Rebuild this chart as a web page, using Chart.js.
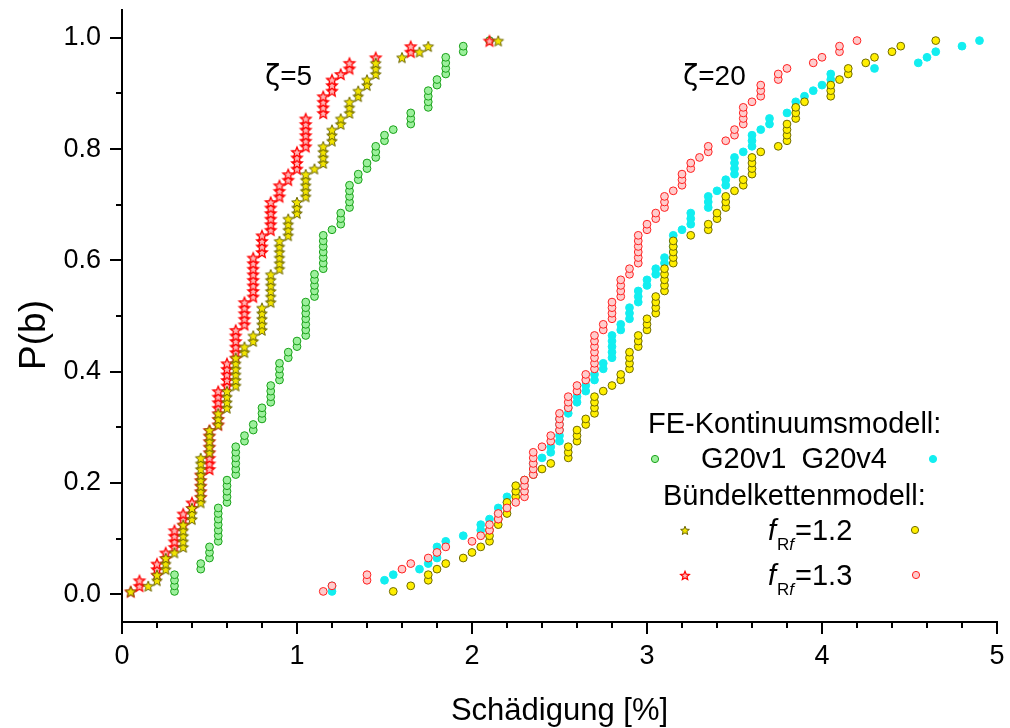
<!DOCTYPE html>
<html>
<head>
<meta charset="utf-8">
<script src="https://cdn.jsdelivr.net/npm/chart.js@4.4.1/dist/chart.umd.min.js"></script>
<style>
  html, body { margin: 0; padding: 0; background: #fff; }
  #wrap { width: 1010px; height: 728px; }
</style>
</head>
<body>
<div id="wrap"><canvas id="chart" width="1010" height="728"></canvas></div>
<script>
// Each series: [Schädigung in %, number of samples at that value] (sorted).
// P(b) of a sample is its rank position in the series.

// zeta = 5
const g20v1Z5 = [[0.30,4],[0.45,2],[0.50,3],[0.55,7],[0.60,5],[0.65,6],[0.70,2],[0.75,2],[0.80,3],[0.85,4],[0.90,4],[0.95,2],[1.00,2],[1.05,7],[1.10,5],[1.15,7],[1.20,1],[1.25,3],[1.30,5],[1.35,2],[1.40,2],[1.45,3],[1.50,2],[1.55,1],[1.65,3],[1.75,4],[1.80,2],[1.85,4],[1.95,2],[2.10,1]];
const bk12Z5 = [[0.05,1],[0.15,1],[0.20,2],[0.25,3],[0.30,1],[0.35,5],[0.40,3],[0.45,9],[0.50,5],[0.55,3],[0.60,4],[0.65,6],[0.70,2],[0.75,2],[0.80,5],[0.85,6],[0.90,6],[0.95,4],[1.00,3],[1.05,5],[1.10,1],[1.15,4],[1.20,3],[1.25,2],[1.30,3],[1.35,2],[1.40,2],[1.45,3],[1.60,1],[1.70,1],[1.75,1],[2.15,1]];
const bk13Z5 = [[0.05,1],[0.10,2],[0.20,3],[0.25,2],[0.30,4],[0.35,3],[0.40,2],[0.45,5],[0.50,8],[0.55,7],[0.60,5],[0.65,6],[0.70,5],[0.75,8],[0.80,4],[0.85,6],[0.90,3],[0.95,2],[1.00,4],[1.05,6],[1.15,4],[1.20,3],[1.25,1],[1.30,2],[1.45,1],[1.65,2],[2.10,1]];

// zeta = 20
const g20v4Z20 = [[1.20,2],[1.50,1],[1.55,1],[1.70,1],[1.75,1],[1.80,3],[1.85,1],[1.95,1],[2.05,2],[2.10,1],[2.15,2],[2.20,2],[2.30,3],[2.35,3],[2.40,1],[2.45,2],[2.50,5],[2.55,2],[2.60,2],[2.65,2],[2.70,2],[2.75,2],[2.80,5],[2.85,2],[2.90,3],[2.95,3],[3.00,2],[3.05,2],[3.10,2],[3.15,4],[3.20,1],[3.25,3],[3.35,3],[3.40,1],[3.45,2],[3.50,4],[3.55,1],[3.60,3],[3.65,1],[3.70,2],[3.80,1],[3.85,2],[3.90,1],[3.95,1],[4.00,1],[4.05,2],[4.30,1],[4.55,1],[4.60,1],[4.65,1],[4.80,1],[4.90,1]];
const bk12Z20 = [[1.55,1],[1.65,1],[1.75,2],[1.80,1],[1.85,1],[1.95,1],[2.00,1],[2.05,1],[2.10,3],[2.15,2],[2.20,3],[2.25,3],[2.30,1],[2.35,1],[2.40,1],[2.45,1],[2.55,3],[2.60,3],[2.65,2],[2.70,4],[2.75,1],[2.80,1],[2.85,2],[2.90,4],[2.95,3],[3.00,3],[3.05,4],[3.10,5],[3.15,5],[3.25,1],[3.35,2],[3.40,2],[3.45,3],[3.50,1],[3.55,2],[3.60,4],[3.65,1],[3.75,1],[3.80,4],[3.85,3],[3.90,1],[4.05,3],[4.10,1],[4.15,2],[4.25,1],[4.30,1],[4.40,1],[4.45,1],[4.65,1]];
const bk13Z20 = [[1.15,1],[1.20,1],[1.40,2],[1.60,1],[1.65,1],[1.75,1],[1.80,1],[1.85,1],[2.00,1],[2.05,1],[2.10,2],[2.15,2],[2.20,1],[2.25,1],[2.30,4],[2.35,5],[2.40,1],[2.45,2],[2.50,4],[2.55,3],[2.60,2],[2.65,2],[2.70,7],[2.75,2],[2.80,4],[2.85,4],[2.90,2],[2.95,6],[3.00,2],[3.05,2],[3.10,3],[3.15,1],[3.20,3],[3.25,2],[3.30,1],[3.35,2],[3.45,1],[3.50,2],[3.55,4],[3.60,1],[3.65,3],[3.75,2],[3.80,1],[3.95,1],[4.00,1],[4.10,2],[4.20,1]];

const xTicks = [0, 1, 2, 3, 4, 5];
const yTicks = [0.0, 0.2, 0.4, 0.6, 0.8, 1.0];

const FONT = "'Liberation Sans', Arial, sans-serif";

// turn [x, count] groups into points, y = plotting position (rank - 0.5) / n
function toPoints(groups) {
  const n = groups.reduce((s, g) => s + g[1], 0);
  const pts = [];
  let rank = 0;
  groups.forEach(([x, count]) => {
    for (let k = 0; k < count; k++) {
      rank++;
      pts.push({ x, y: (rank - 0.5) / n });
    }
  });
  return pts;
}

// filled 5-point star used as point style
function makeStar(fill, stroke, r, lw) {
  const size = Math.ceil(r * 2 + 4);
  const cv = document.createElement('canvas');
  cv.width = size;
  cv.height = size;
  const ctx = cv.getContext('2d');
  const c = size / 2;
  ctx.beginPath();
  for (let i = 0; i < 10; i++) {
    const rr = i % 2 ? r * 0.45 : r;
    const a = -Math.PI / 2 + i * Math.PI / 5;
    ctx.lineTo(c + rr * Math.cos(a), c + 0.8 + rr * Math.sin(a));
  }
  ctx.closePath();
  ctx.fillStyle = fill;
  ctx.fill();
  ctx.lineWidth = lw;
  ctx.strokeStyle = stroke;
  ctx.stroke();
  return cv;
}

const oliveStar = makeStar('#f2e400', '#6a6400', 5.6, 1);
const redStar = makeStar('#ffb4b4', '#ff0000', 5.6, 1.3);
const oliveStarSmall = makeStar('#f2e400', '#6a6400', 4.6, 1);
const redStarSmall = makeStar('#ffb4b4', '#ff0000', 4.6, 1.2);

const green = { fill: '#9cf09c', line: '#18a018' };
const cyan = { fill: '#12eef0', line: '#12eef0' };
const yellow = { fill: '#ffee00', line: '#6f6a00' };
const pink = { fill: '#ffcccc', line: '#ff2020' };

function circleSet(label, groups, col) {
  return {
    label, data: toPoints(groups),
    pointStyle: 'circle', pointRadius: 3.9, borderWidth: 1,
    backgroundColor: col.fill, borderColor: col.line, showLine: false
  };
}
function starSet(label, groups, img) {
  return {
    label, data: toPoints(groups),
    pointStyle: img, pointRadius: 6, showLine: false,
    backgroundColor: 'rgba(0,0,0,0)', borderColor: 'rgba(0,0,0,0)'
  };
}

// minor ticks, titles, annotations and the legend
const decor = {
  id: 'decor',
  afterDraw(chart) {
    const { ctx, scales: { x, y } } = chart;
    ctx.save();
    ctx.strokeStyle = '#000';
    ctx.lineWidth = 2;
    ctx.beginPath();
    for (let v = 0.2; v < 5; v += 0.2) {
      if (Math.abs(v - Math.round(v)) < 1e-6) continue;
      const px = Math.round(x.getPixelForValue(v));
      ctx.moveTo(px, y.bottom); ctx.lineTo(px, y.bottom + 6);
    }
    for (let v = 0.1; v < 1.05; v += 0.2) {
      const py = Math.round(y.getPixelForValue(v));
      ctx.moveTo(x.left, py); ctx.lineTo(x.left - 6, py);
    }
    ctx.stroke();

    ctx.fillStyle = '#000';
    ctx.textBaseline = 'alphabetic';

    // axis titles
    ctx.font = `31px ${FONT}`;
    ctx.textAlign = 'center';
    ctx.fillText('Schädigung [%]', (x.left + x.right) / 2, 720);
    ctx.save();
    ctx.translate(45, 335);
    ctx.rotate(-Math.PI / 2);
    ctx.font = `37px ${FONT}`;
    ctx.fillText('P(b)', 0, 0);
    ctx.restore();

    // annotations (zeta in an upright face)
    ctx.textAlign = 'left';
    const zeta = (label, px) => {
      ctx.font = `28px 'DejaVu Sans', ${FONT}`;
      ctx.fillText('ζ', px, 85);
      const w = ctx.measureText('ζ').width;
      ctx.font = `28px ${FONT}`;
      ctx.fillText(label, px + w, 85);
    };
    zeta('=5', 265);
    zeta('=20', 683);

    // legend
    ctx.font = `29px ${FONT}`;
    ctx.fillText('FE-Kontinuumsmodell:', 648, 433);
    ctx.fillText('G20v1', 701, 468);
    ctx.textAlign = 'right';
    ctx.fillText('G20v4', 887, 468);
    ctx.textAlign = 'left';
    ctx.fillText('Bündelkettenmodell:', 663, 505);

    const fRow = (val, base) => {
      let cx = 768;
      ctx.font = `italic 29px ${FONT}`;
      ctx.fillText('f', cx, base);
      cx += ctx.measureText('f').width + 1;
      ctx.font = `17px ${FONT}`;
      ctx.fillText('R', cx, base + 10);
      cx += ctx.measureText('R').width;
      ctx.font = `italic 17px ${FONT}`;
      ctx.fillText('f', cx, base + 10);
      cx += ctx.measureText('f').width + 1;
      ctx.font = `29px ${FONT}`;
      ctx.fillText('=' + val, cx, base);
    };
    fRow('1.2', 540);
    fRow('1.3', 585);

    const dot = (px, py, col) => {
      ctx.beginPath();
      ctx.arc(px, py, 3.6, 0, Math.PI * 2);
      ctx.fillStyle = col.fill;
      ctx.fill();
      ctx.lineWidth = 1;
      ctx.strokeStyle = col.line;
      ctx.stroke();
    };
    dot(655, 459, green);
    dot(933, 459, cyan);
    dot(915, 530, yellow);
    dot(916, 575, pink);
    ctx.drawImage(oliveStarSmall, 685 - oliveStarSmall.width / 2, 530 - oliveStarSmall.height / 2);
    ctx.drawImage(redStarSmall, 685 - redStarSmall.width / 2, 575 - redStarSmall.height / 2);
    ctx.restore();
  }
};

new Chart(document.getElementById('chart'), {
  type: 'scatter',
  data: {
    datasets: [
      starSet('f_Rf=1.2, zeta=5', bk12Z5, oliveStar),
      starSet('f_Rf=1.3, zeta=5', bk13Z5, redStar),
      circleSet('G20v1', g20v1Z5, green),
      circleSet('f_Rf=1.3, zeta=20', bk13Z20, pink),
      circleSet('f_Rf=1.2, zeta=20', bk12Z20, yellow),
      circleSet('G20v4', g20v4Z20, cyan)
    ]
  },
  options: {
    responsive: false,
    animation: false,
    devicePixelRatio: 1,
    layout: { padding: { left: 2, right: 13, top: 10, bottom: 0 } },
    plugins: { legend: { display: false }, tooltip: { enabled: false } },
    scales: {
      x: {
        type: 'linear', min: 0, max: 5,
        afterFit(s) { s.height = 106; s.paddingLeft = 0; s.paddingRight = 0; },
        afterBuildTicks(s) { s.ticks = xTicks.map(v => ({ value: v })); },
        grid: { drawOnChartArea: false, drawTicks: true, tickLength: 12, color: '#000', lineWidth: 2 },
        border: { display: true, color: '#000', width: 2 },
        ticks: { color: '#000', padding: 6, maxRotation: 0, font: { family: FONT, size: 27 }, callback: v => String(v) }
      },
      y: {
        type: 'linear', min: -0.05, max: 1.05,
        afterFit(s) { s.width = 120; s.paddingTop = 0; s.paddingBottom = 0; },
        afterBuildTicks(s) { s.ticks = yTicks.map(v => ({ value: v })); },
        grid: { drawOnChartArea: false, drawTicks: true, tickLength: 12, color: '#000', lineWidth: 2 },
        border: { display: true, color: '#000', width: 2 },
        ticks: { color: '#000', padding: 9, font: { family: FONT, size: 27 }, callback: v => v.toFixed(1) }
      }
    }
  },
  plugins: [decor]
});
</script>
</body>
</html>
